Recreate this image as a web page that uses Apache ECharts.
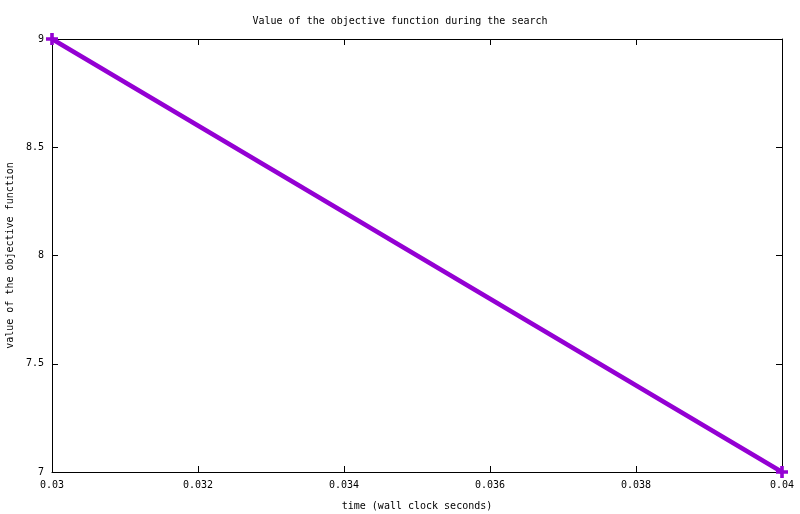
<!DOCTYPE html>
<html>
<head>
<meta charset="utf-8">
<script src="https://cdn.jsdelivr.net/npm/echarts@6/dist/echarts.min.js"></script>
<style>html,body{margin:0;padding:0;background:#fff}#c{width:800px;height:514px}</style>
</head>
<body>
<div id="c"></div>
<script>
var timeValues = [0.03, 0.04];
var objectiveValues = [9, 7];
var xTickLabels = ['0.03','0.032','0.034','0.036','0.038','0.04'];
var yTickLabels = ['7','7.5','8','8.5','9'];

var font = 'DejaVu Sans Mono';
var chart = echarts.init(document.getElementById('c'), null, {renderer: 'canvas'});
var data = timeValues.map(function (t, i) { return [t, objectiveValues[i]]; });
var axisLine = {show: true, lineStyle: {color: '#000', width: 1}};
var tick = {show: true, inside: true, length: 6, lineStyle: {color: '#000', width: 1}};
chart.setOption({
  animation: false,
  backgroundColor: '#fff',
  title: {
    text: 'Value of the objective function during the search',
    left: 'center', top: 11,
    textStyle: {fontFamily: font, fontSize: 10, fontWeight: 'normal', color: '#000'}
  },
  grid: {left: 52, right: 18, top: 39, bottom: 42, containLabel: false, outerBoundsMode: 'none'},
  xAxis: [{
    type: 'value', min: 0.03, max: 0.04, interval: 0.002,
    name: 'time (wall clock seconds)', nameLocation: 'middle', nameGap: 29,
    nameTextStyle: {fontFamily: font, fontSize: 10, color: '#000'},
    axisLine: axisLine, axisTick: tick, splitLine: {show: false},
    axisLabel: {fontFamily: font, fontSize: 10, color: '#000', margin: 8,
      formatter: function (v) { var i = Math.round((v - 0.03) / 0.002); return xTickLabels[i] !== undefined ? xTickLabels[i] : ''; }}
  }, {
    type: 'value', position: 'top', min: 0.03, max: 0.04, interval: 0.002,
    axisLine: axisLine, axisTick: tick, splitLine: {show: false}, axisLabel: {show: false}
  }],
  yAxis: [{
    type: 'value', min: 7, max: 9, interval: 0.5,
    name: 'value of the objective function', nameLocation: 'middle', nameGap: 37, nameRotate: 90,
    nameTextStyle: {fontFamily: font, fontSize: 10, color: '#000'},
    axisLine: axisLine, axisTick: tick, splitLine: {show: false},
    axisLabel: {fontFamily: font, fontSize: 10, color: '#000', margin: 8,
      formatter: function (v) { var i = Math.round((v - 7) / 0.5); return yTickLabels[i] !== undefined ? yTickLabels[i] : ''; }}
  }, {
    type: 'value', position: 'right', min: 7, max: 9, interval: 0.5,
    axisLine: axisLine, axisTick: tick, splitLine: {show: false}, axisLabel: {show: false}
  }],
  series: [{
    type: 'line', data: data, xAxisIndex: 0, yAxisIndex: 0,
    lineStyle: {color: '#9400D3', width: 4.5},
    itemStyle: {color: '#9400D3'},
    symbol: 'path://M3.5,0h3v3.5h3.5v3h-3.5v3.5h-3v-3.5h-3.5v-3h3.5z', symbolSize: 12,
    showSymbol: true, clip: false
  }]
});
</script>
</body>
</html>
